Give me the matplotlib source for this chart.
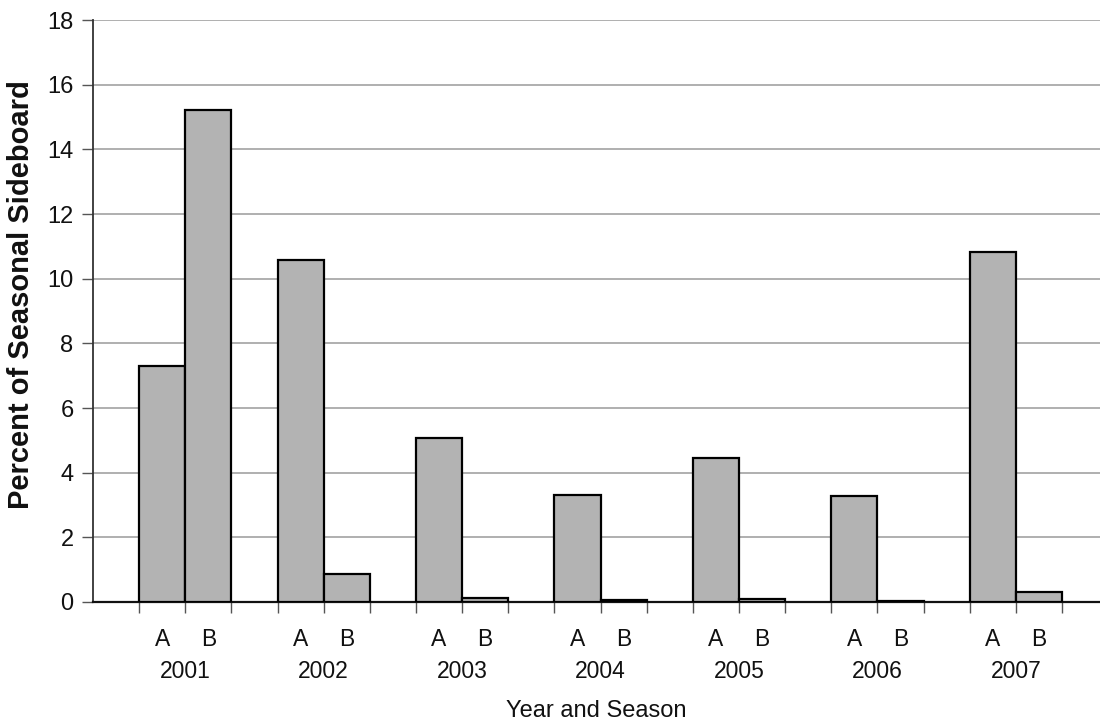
import matplotlib
matplotlib.use("Agg")
import matplotlib.pyplot as plt
import matplotlib.transforms as mtransforms

plt.rcParams['font.family'] = ['Liberation Sans', 'DejaVu Sans']

years = ["2001", "2002", "2003", "2004", "2005", "2006", "2007"]
seasons = ["A", "B"]
season_a = [7.3, 10.58, 5.08, 3.32, 4.45, 3.28, 10.83]
season_b = [15.23, 0.87, 0.13, 0.07, 0.09, 0.02, 0.32]
y_ticks = [0, 2, 4, 6, 8, 10, 12, 14, 16, 18]

fig = plt.figure(figsize=(11, 7.26), dpi=100)
ax = fig.add_axes([93/1100, 1 - 602/726, 1 - 93/1100, (602 - 20)/726])

bar_color = "#b3b3b3"
pos_a = [3*i + 1 for i in range(len(years))]
pos_b = [3*i + 2 for i in range(len(years))]
ax.bar(pos_a, season_a, width=1.0, color=bar_color, edgecolor="black", linewidth=1.6, zorder=3)
ax.bar(pos_b, season_b, width=1.0, color=bar_color, edgecolor="black", linewidth=1.6, zorder=3)

ax.set_xlim(-0.5, -0.5 + 1007/46.14)
ax.set_ylim(0, 18)
ax.set_yticks(y_ticks)
ax.set_yticklabels([str(v) for v in y_ticks], fontsize=17, color="#111111")
ax.yaxis.grid(True, color="#9a9a9a", linewidth=1.1, zorder=0)
ax.set_axisbelow(True)

boundaries = [i + 0.5 for i in range(3*len(years))]
ax.set_xticks(boundaries)
ax.set_xticklabels([])
ax.tick_params(axis='x', direction='out', length=8, width=1.0, color="#555555")
ax.tick_params(axis='y', direction='out', length=8, width=1.0, color="#555555", pad=6)

for s in ["top", "right"]:
    ax.spines[s].set_visible(False)
ax.spines["left"].set_color("#333333")
ax.spines["left"].set_linewidth(1.3)
ax.spines["bottom"].set_color("#111111")
ax.spines["bottom"].set_linewidth(1.6)

trans = mtransforms.blended_transform_factory(ax.transData, fig.transFigure)
for i, yr in enumerate(years):
    ax.text(pos_a[i], 1 - 640/726, seasons[0], transform=trans, ha="center", va="center", fontsize=16.5, color="#111111")
    ax.text(pos_b[i], 1 - 640/726, seasons[1], transform=trans, ha="center", va="center", fontsize=16.5, color="#111111")
    ax.text((pos_a[i] + pos_b[i]) / 2, 1 - 672/726, yr, transform=trans, ha="center", va="center", fontsize=16.5, color="#111111")

fig.text(596/1100, 1 - 711/726, "Year and Season", ha="center", va="center", fontsize=17, color="#111111")
fig.text(21/1100, 1 - 295/726, "Percent of Seasonal Sideboard", ha="center", va="center",
         rotation=90, fontsize=21, fontweight="bold", color="#111111")

fig.savefig("out.png", dpi=100)
